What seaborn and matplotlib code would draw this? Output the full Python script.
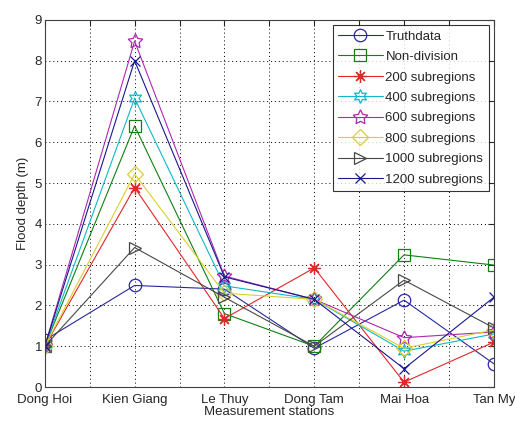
import numpy as np
import pandas as pd
import matplotlib
matplotlib.use("Agg")
import matplotlib.pyplot as plt
import seaborn as sns

# ── data ────────────────────────────────────────────────
stations = ["Dong Hoi", "Kien Giang", "Le Thuy", "Dong Tam", "Mai Hoa", "Tan My"]
series_names = ["Truthdata", "Non-division", "200 subregions", "400 subregions",
                "600 subregions", "800 subregions", "1000 subregions", "1200 subregions"]

truth = [1.15, 2.49, 2.40, 0.95, 2.13, 0.57]
non_division = [1.0, 6.40, 1.80, 1.0, 3.24, 2.99]
sub200 = [1.0, 4.89, 1.68, 2.92, 0.12, 1.10]
sub400 = [1.0, 7.08, 2.48, 2.15, 0.88, 1.30]
sub600 = [1.0, 8.48, 2.72, 2.15, 1.21, 1.35]
sub800 = [1.0, 5.22, 2.30, 2.15, 0.95, 1.40]
sub1000 = [1.0, 3.42, 2.20, 1.0, 2.62, 1.45]
sub1200 = [1.0, 8.00, 2.70, 2.15, 0.45, 2.20]

values = [truth, non_division, sub200, sub400, sub600, sub800, sub1000, sub1200]
colors = ["#2828a0", "#108010", "#e02828", "#10b8c8", "#b028b0", "#d8d030", "#484848", "#181890"]
markers = ["o", "s", (8, 2, 0), (6, 1, 0), (5, 1, 0), "D", ">", "x"]
msizes = [9, 8, 9, 10, 11, 8, 9, 7]

sns.set_style("white")
plt.rcParams["font.family"] = ["Liberation Sans", "DejaVu Sans"]

fig = plt.figure(figsize=(5.15, 4.23), dpi=100)
ax = fig.add_axes([0.087, 0.085, 0.872, 0.868])

x = np.arange(1, len(stations) + 1)
for name, vals, c, m, ms in zip(series_names, values, colors, markers, msizes):
    df = pd.DataFrame({"station": x, "depth": vals})
    sns.lineplot(data=df, x="station", y="depth", ax=ax, color=c, lw=0.8,
                 marker=m, markersize=ms, markerfacecolor="none",
                 markeredgecolor=c, markeredgewidth=0.9, label=name)

# MATLAB-like axes
ax.set_xlim(1, 6)
ax.set_ylim(0, 9)
xt = np.arange(1, 6.01, 0.5)
ax.set_xticks(xt)
ax.set_xticklabels([stations[int(t) - 1] if float(t).is_integer() else "" for t in xt],
                   fontsize=9.5)
ax.set_yticks(range(0, 10))
ax.tick_params(axis="y", labelsize=9.5, pad=2)
ax.tick_params(axis="x", pad=5)
ax.tick_params(direction="in", top=True, right=True, length=4, width=0.8)
ax.grid(True, linestyle=(0, (1, 3)), color="black", linewidth=0.7)
for s in ax.spines.values():
    s.set_color("#404040")
    s.set_linewidth(0.8)

ax.set_xlabel("Measurement stations", fontsize=9.5, labelpad=0)
ax.set_ylabel("Flood depth (m)", fontsize=9.5, labelpad=4)

leg = ax.legend(loc="upper right", fontsize=9.5, frameon=True, fancybox=False,
                handlelength=3.4, borderaxespad=0.4, labelspacing=0.62,
                handletextpad=0.2, borderpad=0.4)
leg.get_frame().set_edgecolor("black")
leg.get_frame().set_linewidth(0.8)

plt.savefig("out.png", dpi=100)
plt.close()
